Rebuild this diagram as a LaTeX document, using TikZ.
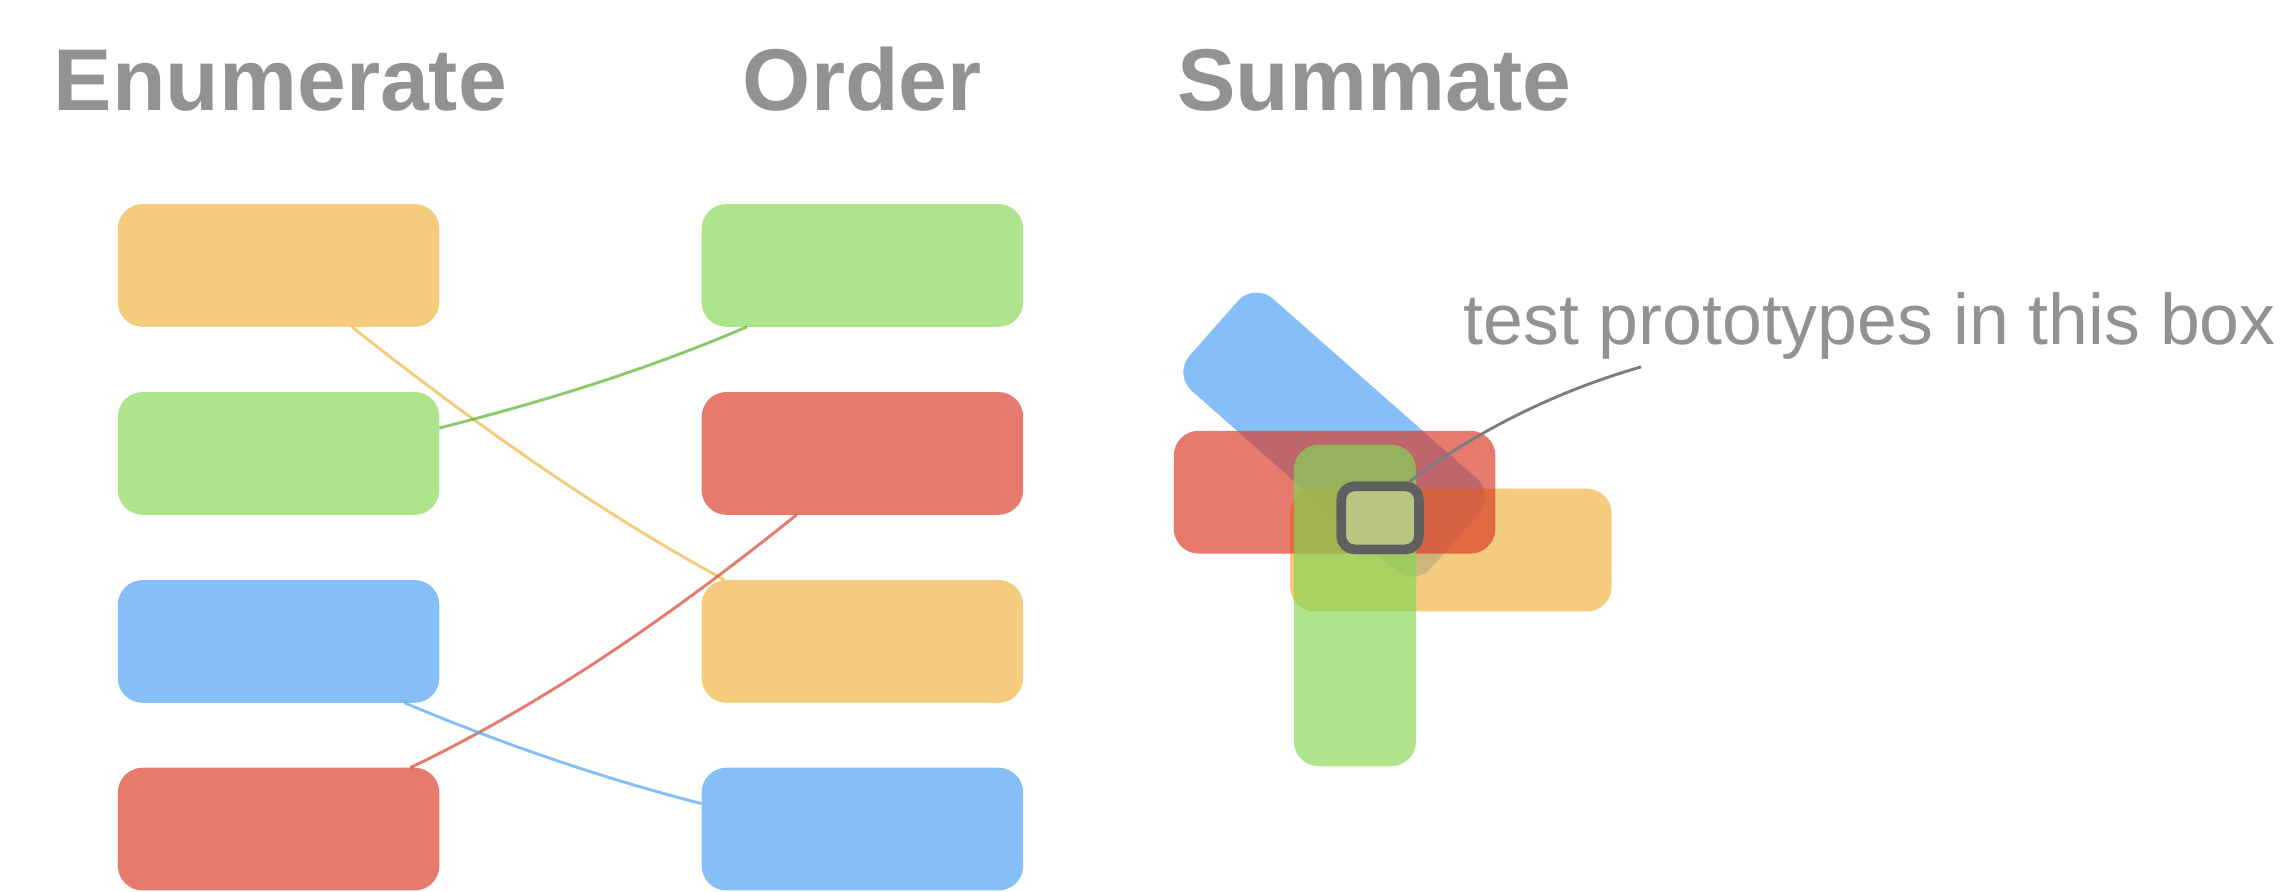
\documentclass[tikz,border=0pt]{standalone}
\usepackage{fontspec}
\setmainfont{Liberation Sans}
\definecolor{orT}{RGB}{240,178,65}
\definecolor{grT}{RGB}{134,215,86}
\definecolor{rdT}{RGB}{218,61,40}
\definecolor{blT}{RGB}{76,161,245}
\definecolor{grL}{RGB}{82,176,39}
\definecolor{titlegray}{RGB}{146,146,146}
\definecolor{calloutgray}{RGB}{125,125,125}
\definecolor{framegray}{RGB}{95,95,95}
\definecolor{innerfill}{RGB}{185,198,128}
\begin{document}
\begin{tikzpicture}[x=1pt,y=-1pt,
  box/.style={rounded corners=17pt, minimum width=220pt, minimum height=84pt,
    inner sep=0pt, outer sep=0pt, anchor=north west, fill opacity=0.68, draw=none},
  vbox/.style={box, minimum width=83.5pt, minimum height=220pt},
  link/.style={line width=2pt, draw opacity=0.68},
  title/.style={anchor=base west, inner sep=0pt, text=titlegray,
    font=\fontsize{60}{60}\selectfont\bfseries},
  note/.style={anchor=base west, inner sep=0pt, text=titlegray,
    font=\fontsize{49}{49}\selectfont}]
\useasboundingbox (0,0) rectangle (1568,610);

% titles
\node[title] (tE) at (36.5,75.3) {Enumerate};
\node[title] (tO) at (508,75.3) {Order};
\node[title] (tS) at (805,75.3) {Summate};

% enumerate column
\node[box, fill=orT] (E1) at (80.6,139.6) {};
\node[box, fill=grT] (E2) at (80.6,268.2) {};
\node[box, fill=blT] (E3) at (80.6,396.8) {};
\node[box, fill=rdT] (E4) at (80.6,525.2) {};

% order column
\node[box, fill=grT] (O1) at (480,139.6) {};
\node[box, fill=rdT] (O2) at (480,268.2) {};
\node[box, fill=orT] (O3) at (480,396.8) {};
\node[box, fill=blT] (O4) at (480,525.2) {};

% connectors
\draw[link, draw=orT] (E1.-40.8) .. controls +(80.3,63.5) and +(-89.9,-49) .. (O3.156.3);
\draw[link, draw=grL] (E2.9.7) .. controls +(71.8,-18.1) and +(-68,29.2) .. (O1.208.2);
\draw[link, draw=rdT] (O2.223.6) .. controls +(-82.7,66.4) and +(95.5,-45.9) .. (E4.25.3);
\draw[link, draw=blT] (E3.-26.2) .. controls +(66.4,27.9) and +(-69.8,-17.9) .. (O4.171.7);

% summate
\node[box, fill=blT, anchor=center, rotate=-41.4] (S1) at (912.8,297.4) {};
\node[box, fill=orT] (S2) at (882.6,334.3) {};
\node[box, fill=rdT] (S3) at (803,294.7) {};
\node[vbox, fill=grT] (S4) at (885.2,304.2) {};

\node[note] (txt) at (1001,235.8) {test prototypes in this box};
\coordinate (ce) at (1122.7,251);
\node[draw=framegray, fill=innerfill, line width=6.5pt, rounded corners=9pt,
  minimum width=53pt, minimum height=43pt, inner sep=0pt] (sb) at (944.1,354.25) {};
\draw[draw=calloutgray, line width=2pt] (sb.51.9) .. controls +(47,-35.6) and +(-56.7,16.3) .. (ce);
\node[draw=framegray, fill=innerfill, line width=6.5pt, rounded corners=9pt,
  minimum width=53pt, minimum height=43pt, inner sep=0pt] at (sb.center) {};
\end{tikzpicture}
\end{document}
